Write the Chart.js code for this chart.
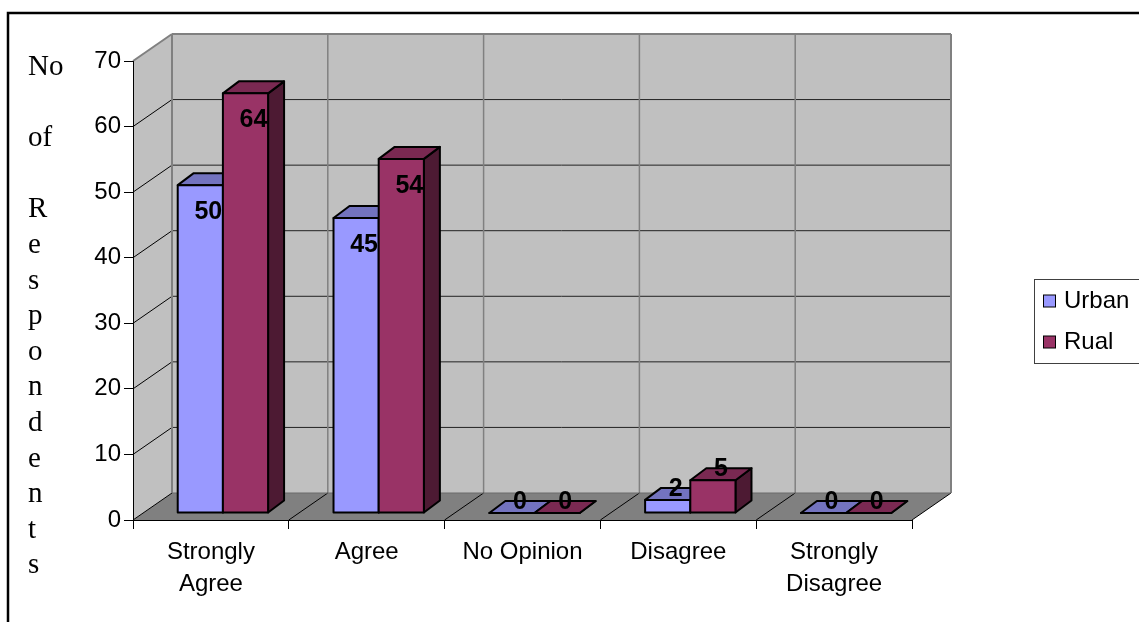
<!DOCTYPE html>
<html>
<head>
<meta charset="utf-8">
<title>No of Respondents</title>
<script src="https://cdn.jsdelivr.net/npm/chart.js@4.4.1/dist/chart.umd.min.js"></script>
<style>
  html, body { margin: 0; padding: 0; background: #fff; }
  #wrap { position: relative; width: 1139px; height: 622px; }
</style>
</head>
<body>
<div id="wrap"><canvas id="chart" width="1139" height="622"></canvas></div>
<script>
/* ── Data ───────────────────────────────────────── */
const categories  = [['Strongly', 'Agree'], 'Agree', 'No Opinion', 'Disagree', ['Strongly', 'Disagree']];
const urban       = [50, 45, 0, 2, 0];
const rual        = [64, 54, 0, 5, 0];
const seriesNames = ['Urban', 'Rual'];
const yTicks      = [0, 10, 20, 30, 40, 50, 60, 70];
const yTitleLines = ['No', '', 'of', '', 'R', 'e', 's', 'p', 'o', 'n', 'd', 'e', 'n', 't', 's'];

/* ── Look ───────────────────────────────────────── */
const FONT      = '"Liberation Sans", Arial, sans-serif';
const SERIF     = '"Liberation Serif", "Times New Roman", serif';
const faces = [
  { front: '#9999ff', top: '#7373bf', side: '#4d4d80' },
  { front: '#993366', top: '#7a2952', side: '#4d1a33' }
];
const DEPTH     = { x: 39, y: -27 };   // floor / wall depth
const BAR_OFF   = { x: 12, y: -7 };    // bar front face pushed into the floor
const BAR_DEPTH = { x: 16, y: -12 };

function poly(ctx, pts, fill, stroke, lw) {
  ctx.beginPath();
  ctx.moveTo(pts[0][0], pts[0][1]);
  for (let i = 1; i < pts.length; i++) ctx.lineTo(pts[i][0], pts[i][1]);
  ctx.closePath();
  if (fill) { ctx.fillStyle = fill; ctx.fill(); }
  if (stroke) { ctx.strokeStyle = stroke; ctx.lineWidth = lw || 1; ctx.stroke(); }
}

function line(ctx, x1, y1, x2, y2, color, lw) {
  ctx.beginPath();
  ctx.moveTo(x1, y1);
  ctx.lineTo(x2, y2);
  ctx.strokeStyle = color;
  ctx.lineWidth = lw;
  ctx.stroke();
}

/* ── 3D walls, floor, bars, labels ──────────────── */
const box3d = {
  id: 'box3d',
  beforeDraw(chart) {
    const { ctx, chartArea: a, scales: { x, y } } = chart;
    const dx = DEPTH.x, dy = DEPTH.y;
    ctx.save();
    // walls and floor
    poly(ctx, [[a.left, a.top], [a.left + dx, a.top + dy], [a.left + dx, a.bottom + dy], [a.left, a.bottom]], '#c0c0c0');
    poly(ctx, [[a.left + dx, a.top + dy], [a.right + dx, a.top + dy], [a.right + dx, a.bottom + dy], [a.left + dx, a.bottom + dy]], '#c0c0c0');
    poly(ctx, [[a.left, a.bottom], [a.right, a.bottom], [a.right + dx, a.bottom + dy], [a.left + dx, a.bottom + dy]], '#808080');

    // value gridlines: back wall + left wall
    const maxV = yTicks[yTicks.length - 1];
    yTicks.forEach(v => {
      if (v === 0 || v === maxV) return;
      const py = y.getPixelForValue(v);
      line(ctx, a.left, py, a.left + dx, py + dy, '#000', 1);
      line(ctx, a.left + dx, py + dy, a.right + dx, py + dy, '#222', 1);
    });

    // category lines on the back wall and floor
    for (let i = 0; i <= categories.length; i++) {
      const bx = x.getPixelForValue(i - 0.5);
      if (i > 0 && i < categories.length) {
        line(ctx, bx + dx, a.top + dy, bx + dx, a.bottom + dy, '#808080', 1.5);
      }
      line(ctx, bx, a.bottom, bx + dx, a.bottom + dy, '#000', 1);
    }

    // wall edges
    line(ctx, a.left, a.top, a.left + dx, a.top + dy, '#808080', 2);
    line(ctx, a.left + dx, a.top + dy, a.right + dx, a.top + dy, '#808080', 2);
    line(ctx, a.left + dx, a.top + dy, a.left + dx, a.bottom + dy, '#808080', 2);
    line(ctx, a.right + dx, a.top + dy, a.right + dx, a.bottom + dy, '#808080', 2);
    line(ctx, a.left + dx, a.bottom + dy, a.right + dx, a.bottom + dy, '#6a6a6a', 1);
    ctx.restore();
  },

  beforeDatasetsDraw(chart) {
    const { ctx } = chart;
    const metas = chart.getSortedVisibleDatasetMetas();
    const bdx = BAR_DEPTH.x, bdy = BAR_DEPTH.y;
    const labels = [];
    ctx.save();
    ctx.lineJoin = 'round';
    for (let i = 0; i < categories.length; i++) {
      metas.forEach((meta, d) => {
        const { x, y, base, width } = meta.data[i].getProps(['x', 'y', 'base', 'width'], true);
        const c = faces[d];
        const x0 = x - width / 2 + BAR_OFF.x, x1 = x + width / 2 + BAR_OFF.x;
        const yt = y + BAR_OFF.y, yb = base + BAR_OFF.y;
        poly(ctx, [[x1, yt], [x1 + bdx, yt + bdy], [x1 + bdx, yb + bdy], [x1, yb]], c.side, '#000', 2);
        poly(ctx, [[x0, yt], [x1, yt], [x1 + bdx, yt + bdy], [x0 + bdx, yt + bdy]], c.top, '#000', 2);
        poly(ctx, [[x0, yt], [x1, yt], [x1, yb], [x0, yb]], c.front, '#000', 2);
        const val = chart.data.datasets[d].data[i];
        const inside = (yb - yt) > 40;
        labels.push({
          text: String(val),
          x: (x0 + x1) / 2 + 8,
          y: inside ? yt + 27 : yt + bdy + 1
        });
      });
    }
    ctx.fillStyle = '#000';
    ctx.font = 'bold 25px ' + FONT;
    ctx.textAlign = 'center';
    ctx.textBaseline = 'middle';
    labels.forEach(l => ctx.fillText(l.text, l.x, l.y));
    ctx.restore();
    return false;
  },

  afterDraw(chart) {
    const { ctx } = chart;
    ctx.save();
    // outer frame
    ctx.beginPath();
    ctx.moveTo(8, 622);
    ctx.lineTo(8, 13);
    ctx.lineTo(1139, 13);
    ctx.strokeStyle = '#000';
    ctx.lineWidth = 2.5;
    ctx.stroke();

    // y title, one letter per line
    ctx.fillStyle = '#000';
    ctx.font = '29px ' + SERIF;
    ctx.textAlign = 'left';
    ctx.textBaseline = 'alphabetic';
    yTitleLines.forEach((t, k) => ctx.fillText(t, 28, 75 + k * 35.6));

    // legend
    ctx.strokeStyle = '#404040';
    ctx.lineWidth = 1;
    ctx.strokeRect(1034.5, 279.5, 120, 84);
    ctx.font = '24px ' + FONT;
    ctx.textBaseline = 'middle';
    seriesNames.forEach((name, d) => {
      const cy = 301 + d * 41;
      ctx.fillStyle = faces[d].front;
      ctx.fillRect(1043.5, cy - 6, 12, 12);
      ctx.strokeStyle = '#000';
      ctx.strokeRect(1043.5, cy - 6, 12, 12);
      ctx.fillStyle = '#000';
      ctx.fillText(name, 1064, cy);
    });
    ctx.restore();
  }
};

/* ── Chart ──────────────────────────────────────── */
new Chart(document.getElementById('chart'), {
  type: 'bar',
  data: {
    labels: categories,
    datasets: [
      { label: seriesNames[0], data: urban, backgroundColor: faces[0].front },
      { label: seriesNames[1], data: rual,  backgroundColor: faces[1].front }
    ]
  },
  options: {
    responsive: false,
    animation: false,
    devicePixelRatio: 1,
    categoryPercentage: 0.58,
    barPercentage: 1.0,
    layout: { padding: { left: 0, right: 227, top: 61, bottom: 0 } },
    plugins: { legend: { display: false }, tooltip: { enabled: false } },
    scales: {
      x: {
        afterFit: s => { s.height = 102; },
        grid: { drawOnChartArea: false, drawTicks: true, tickLength: 9, color: '#000' },
        border: { display: true, color: '#000', width: 1 },
        ticks: { color: '#000', font: { family: FONT, size: 24, lineHeight: 1.35 }, padding: 7, maxRotation: 0, autoSkip: false }
      },
      y: {
        min: 0,
        max: 70,
        afterFit: s => { s.width = 133; },
        afterBuildTicks: s => { s.ticks = yTicks.map(v => ({ value: v })); },
        grid: { drawOnChartArea: false, drawTicks: true, tickLength: 9, color: '#000' },
        border: { display: true, color: '#000', width: 1 },
        ticks: { color: '#000', font: { family: FONT, size: 24 }, padding: 3 }
      }
    }
  },
  plugins: [box3d]
});
</script>
</body>
</html>
